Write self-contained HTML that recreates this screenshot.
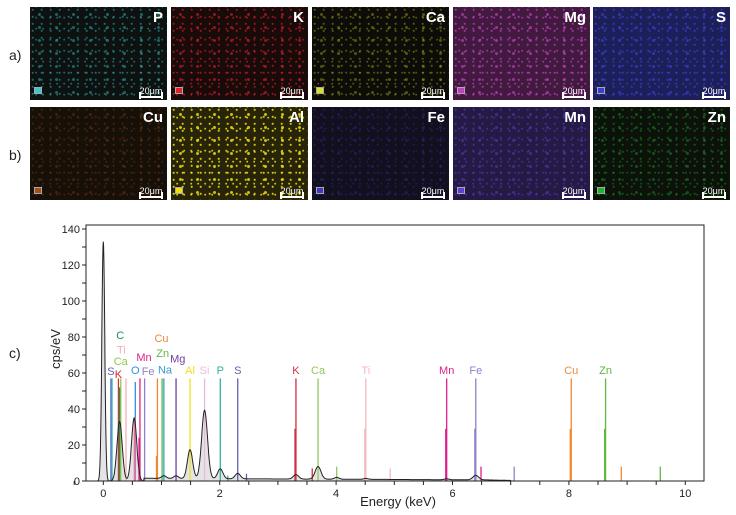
<!DOCTYPE html>
<html><head><meta charset="utf-8">
<style>
body{margin:0;width:736px;height:515px;background:#fff;font-family:"Liberation Sans",sans-serif;position:relative;overflow:hidden}
.pan{position:absolute;width:137px;height:93px;background:#0d0b08;overflow:hidden}
.pan .nm{position:absolute;right:4px;top:2px;color:#fff;font-weight:bold;font-size:15px}
.pan .sb{position:absolute;right:4px;bottom:2px;width:24px;color:#fff;font-size:9px;text-align:center;border-bottom:2px solid #fff;line-height:9px}
.pan .sb:before,.pan .sb:after{content:"";position:absolute;bottom:-3px;width:2px;height:7px;background:#fff}
.pan .sb:before{left:0}.pan .sb:after{right:0}
.pan .sq{position:absolute;left:4px;bottom:6px;width:6px;height:5px;border:1px solid #aaa}
.rl{position:absolute;font-size:14px;color:#222}
</style></head><body>
<div class="rl" style="left:9px;top:47px">a)</div>
<div class="rl" style="left:9px;top:147px">b)</div>
<div class="rl" style="left:9px;top:345px">c)</div>
<div id="maps"></div>
<svg id="chart" width="736" height="515" style="position:absolute;left:0;top:0"></svg>
<script>
// ---- element maps ----
const mapNames=["P","K","Ca","Mg","S","Cu","Al","Fe","Mn","Zn"];
const mapColors=["#3cc8d0","#e0202a","#d8e020","#c040c0","#3840d0","#a05018","#f0e010","#4038c0","#6040d0","#20b030"];
const mapDensity=[0.45,0.6,0.35,0.7,0.7,0.3,0.85,0.3,0.5,0.4];
const mapFill=[0.04,0.06,0.01,0.3,0.4,0.08,0.12,0.12,0.3,0.05];
const colX=[30,171,312,453,593], rowY=[7,107];
const hx=a=>Math.round(a*255).toString(16).padStart(2,'0');
const maps=document.getElementById('maps');
mapNames.forEach((n,i)=>{
  const d=document.createElement('div');
  d.className='pan';
  
  
  d.style.left=colX[i%5]+'px';d.style.top=rowY[Math.floor(i/5)]+'px';
  const c=mapColors[i],al=hx(mapDensity[i]),fl=hx(mapFill[i]);
  d.style.background=`radial-gradient(circle at 30% 40%, ${c}${al} 0 0.8px, transparent 1.3px) 0 0/9px 7px,
   radial-gradient(circle at 60% 70%, ${c}${al} 0 0.7px, transparent 1.2px) 2px 3px/7px 11px,
   radial-gradient(circle, ${c}${al} 0 1.2px, transparent 1.8px) 1px 1px/17px 13px,
   linear-gradient(${c}${fl},${c}${fl}), #0b0a08`;
  d.innerHTML=`<div class="nm">${n}</div><div class="sq" style="background:${c}"></div><div class="sb">20μm</div>`;
  maps.appendChild(d);
});
</script>
<script>
// ---- spectrum data ----
const peakE=[0,0.28,0.53,1.04,1.25,1.49,1.74,2.01,2.31,3.31,3.69,4.01,4.51,5.9,6.4];
const peakH=[133,33,35,1.5,1.5,16,38,5.5,3,2.5,7,1,0.5,0.5,2.5];
const peakW=[0.025,0.045,0.045,0.04,0.04,0.045,0.05,0.045,0.045,0.045,0.05,0.04,0.04,0.04,0.05];
const lineEl=["S","S","K","Ca","C","Ti","O","Mn","Fe","Cu","Zn","Na","Mg","Al","Si","P","S","K","Ca","Ti","Mn","Fe","Cu","Zn","K","Ca","Ti","Mn","Fe","Cu","Zn","S","P"];
const lineE=[0.13,0.15,0.26,0.3,0.28,0.39,0.55,0.63,0.71,0.93,1.01,1.04,1.25,1.49,1.74,2.01,2.31,3.31,3.69,4.51,5.9,6.4,8.04,8.63,3.59,4.01,4.93,6.49,7.06,8.9,9.57,2.46,2.14];
const lineH=[57,57,57,57,52,57,55,57,57,57,57,57,57,57,57,57,57,57,57,57,57,57,57,57,7,8,7,8,8,8,8,4,3];
const lineColor=["#7070c0","#30b8c0","#e03030","#90c850","#209050","#f4b0b8","#3090e0","#e0208a","#9080c8","#f08830","#60b840","#30a0d0","#7040a0","#f0e020","#ecb8e0","#30b0a0","#6060b0","#d03040","#90c860","#f4b8c0","#e0208a","#9080c8","#f08830","#60b840","#d03040","#90c860","#f4b8c0","#e0208a","#9080c8","#f08830","#60b840","#6060b0","#30b0a0"];
const thickE=[3.31,4.51,5.9,6.4,8.04,8.63,0.55,0.63,0.93];
const thickH=[29,29,29,29,29,29,35,24,14];
const thickColor=["#d03040","#f4b8c0","#e0208a","#9080c8","#f08830","#60b840","#f070a0","#e0208a","#f08830"];
const labelText=["S","K","Ca","Ti","C","O","Fe","Mn","Cu","Zn","Na","Mg","Al","Si","P","S","K","Ca","Ti","Mn","Fe","Cu","Zn"];
const labelE=[0.13,0.26,0.3,0.31,0.29,0.55,0.77,0.7,1.0,1.02,1.06,1.28,1.49,1.74,2.01,2.31,3.31,3.69,4.51,5.9,6.4,8.04,8.63];
const labelY=[61,59.5,66.7,73,81,61.7,61,69,79.5,71,62,68,61.7,61.7,61.7,61.7,61.7,61.7,61.7,61.7,61.7,61.7,61.7];
const labelColor=["#6060b0","#e02030","#90c850","#f4b0b8","#209050","#3090e0","#9080c8","#e0208a","#f08830","#60b840","#30a0d0","#7040a0","#f0e020","#ecb8e0","#30b0a0","#6060b0","#d03040","#90c860","#f4b8c0","#e0208a","#9080c8","#f08830","#60b840"];
const xTicks=[0,2,4,6,8,10];
const yTicks=[0,20,40,60,80,100,120,140];
const baseE=[0.7,2.4,4.0,6.6,7.0];
const baseV=[1.5,1.2,1,0.6,0.3];

const NS="http://www.w3.org/2000/svg";
const svg=document.getElementById('chart');
const X0=86,X1=704,Y0=225,Y1=481;
const xs=e=>103.3+e*58.2;
const ys=v=>481-v*1.8;
function mk(t,at,parent){const e=document.createElementNS(NS,t);for(const k in at)e.setAttribute(k,at[k]);(parent||svg).appendChild(e);return e;}
function baseline(e){
  if(e<baseE[0]||e>baseE[baseE.length-1])return 0;
  for(let i=0;i<baseE.length-1;i++)if(e<=baseE[i+1]){const t=(e-baseE[i])/(baseE[i+1]-baseE[i]);return baseV[i]+(baseV[i+1]-baseV[i])*t;}
  return 0;
}
function spec(e){let s=baseline(e);for(let i=0;i<peakE.length;i++){const d=(e-peakE[i])/peakW[i];s+=peakH[i]*Math.exp(-0.5*d*d);}return s;}
let pts=[];for(let e=-0.1;e<=10.3;e+=0.005)pts.push([xs(e),ys(spec(e))]);
const dArea='M'+xs(-0.1)+','+ys(0)+' L'+pts.map(p=>p[0].toFixed(1)+','+p[1].toFixed(1)).join(' L')+' L'+xs(10.3)+','+ys(0)+'Z';
const area=mk('path',{d:dArea,fill:'#e4e4e4',stroke:'none'});


lineE.forEach((e,i)=>{
  const l=mk('line',{x1:xs(e),x2:xs(e),y1:ys(0),y2:ys(lineH[i]),stroke:lineColor[i],'stroke-width':1.3});
  
  
});
thickE.forEach((e,i)=>{
  const l=mk('line',{x1:xs(e)-0.6,x2:xs(e)-0.6,y1:ys(0),y2:ys(thickH[i]),stroke:thickColor[i],'stroke-width':2});
  
  
});
const sp=mk('path',{d:'M'+pts.map(p=>p[0].toFixed(1)+','+p[1].toFixed(1)).join(' L'),fill:'none',stroke:'#222','stroke-width':1});


labelText.forEach((t,i)=>{
  const tx=mk('text',{x:xs(labelE[i]),y:ys(labelY[i])+4,'text-anchor':'middle','font-size':11,fill:labelColor[i],'font-family':'Liberation Sans, sans-serif'});
  tx.textContent=t;
  
  
});
const fr=mk('rect',{x:X0,y:Y0,width:X1-X0,height:Y1-Y0,fill:'none',stroke:'#222','stroke-width':1});


for(let e=-0.5;e<=10.25;e+=0.5){mk('line',{x1:xs(e),x2:xs(e),y1:Y1,y2:Y1+4,stroke:'#222'});}
xTicks.forEach(v=>{const t=mk('text',{x:xs(v),y:Y1+16,'text-anchor':'middle','font-size':11,fill:'#222'});t.textContent=v;
  
  });
for(let v=0;v<=140;v+=10){mk('line',{x1:X0-4,x2:X0,y1:ys(v),y2:ys(v),stroke:'#222'});}
yTicks.forEach(v=>{const t=mk('text',{x:X0-6,y:ys(v)+4,'text-anchor':'end','font-size':11,fill:'#222'});t.textContent=v;
  
  });
const xt=mk('text',{x:398,y:506,'text-anchor':'middle','font-size':13,fill:'#222'});xt.textContent='Energy (keV)';


const yt=mk('text',{x:0,y:0,'text-anchor':'middle','font-size':13,fill:'#222',transform:'translate(60,349) rotate(-90)'});yt.textContent='cps/eV';


</script>
</body></html>
